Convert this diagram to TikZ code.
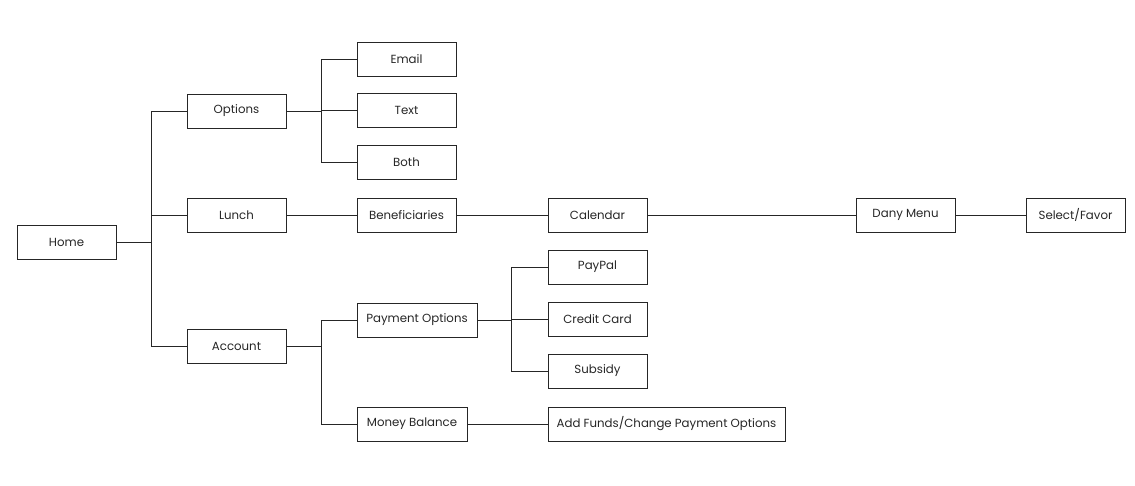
\documentclass[tikz,border=0pt]{standalone}
\usepackage{fontspec}
\setmainfont{Poppins}
\usetikzlibrary{calc}

\tikzset{
  box/.style={draw=black!85, line width=0.5pt, minimum width=1.98cm, minimum height=0.68cm,
    inner sep=1pt, text=black!85, font=\fontsize{6.7}{8}\selectfont},
  link/.style={draw=black!85, line width=0.5pt}
}

\begin{document}
\begin{tikzpicture}[x=0.02cm, y=-0.02cm]
 \useasboundingbox (0,0) rectangle (1135,486);

 \node[box] (home) at (66.5,242) {Home};
 \node[box] (options) at (236.5,111) {Options};
 \node[box] (lunch) at (236.5,215) {Lunch};
 \node[box] (account) at (236.5,346) {Account};

 \node[box] (email) at (406.5,59) {Email};
 \node[box] (text) at (406.5,110) {Text};
 \node[box] (both) at (406.5,162) {Both};

 \node[box] (benef) at (406.5,215) {Beneficiaries};
 \node[box] (calendar) at (597.5,215) {Calendar};
 \node[box] (dany) at (905.5,215) {Dany Menu};
 \node[box] (select) at (1075.5,215) {Select/Favor};

 \node[box, minimum width=2.4cm] (payopt) at (417,320) {Payment Options};
 \node[box, minimum width=2.2cm] (money) at (412,424) {Money Balance};

 \node[box] (paypal) at (597.5,267) {PayPal};
 \node[box] (credit) at (597.5,319) {Credit Card};
 \node[box] (subsidy) at (597.5,371) {Subsidy};
 \node[box, minimum width=4.74cm] (funds) at (666.5,424) {Add Funds/Change Payment Options};

 % home branches
 \draw[link] (home.east) -- ++(36,0);
 \draw[link] (options.west) -- ++(-35,0) |- (account.west);
 \draw[link] (lunch.west) -- ++(-35,0);

 % options branches
 \draw[link] (options.east) -- ++(36,0);
 \draw[link] (email.west) -- ++(-35,0) |- (both.west);
 \draw[link] (text.west) -- ++(-35,0);

 % lunch chain
 \path[link] (lunch) edge (benef) (benef) edge (calendar)
   (calendar) edge (dany) (dany) edge (select);

 % account branches
 \draw[link] (account.east) -- ++(36,0);
 \draw[link] (payopt.west) -- ++(-35,0) |- (money.west);
 \path[link] (money) edge (funds);

 % payment options branches
 \draw[link] (payopt.east) -- ++(35,0);
 \draw[link] (paypal.west) -- ++(-36,0) |- (subsidy.west);
 \draw[link] (credit.west) -- ++(-36,0);
\end{tikzpicture}
\end{document}
